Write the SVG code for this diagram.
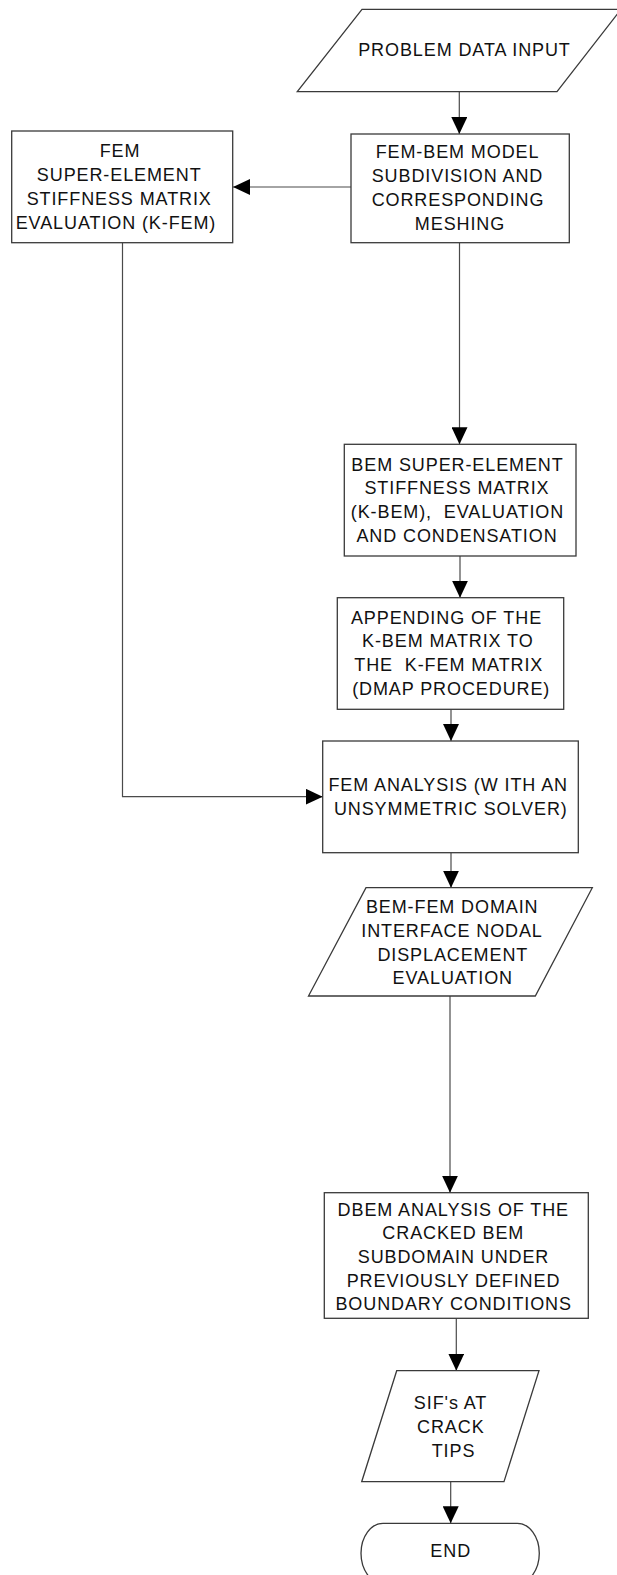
<svg xmlns="http://www.w3.org/2000/svg" width="617" height="1575" viewBox="0 0 617 1575">
<style>
.shape{fill:#fff;stroke:#3a3a3a;stroke-width:1.3}
.conn{fill:none;stroke:#4a4a4a;stroke-width:1.2}
text{font-family:"Liberation Sans",Arial,sans-serif;font-size:18px;letter-spacing:0.9px;fill:#111;text-anchor:middle;white-space:pre}
</style>
<defs>
<marker id="ah" markerUnits="userSpaceOnUse" viewBox="0 0 17 16" refX="17" refY="8" markerWidth="17" markerHeight="16" orient="auto">
<path d="M0,0 L17,8 L0,16 z" fill="#000"/>
</marker>
</defs>
<rect width="617" height="1575" fill="#fff"/>
<g id="connectors">
<line class="conn" x1="459.3" y1="91.7" x2="459.3" y2="134" marker-end="url(#ah)"/>
<line class="conn" x1="351" y1="187" x2="233" y2="187" marker-end="url(#ah)"/>
<line class="conn" x1="459.5" y1="242.7" x2="459.5" y2="444.3" marker-end="url(#ah)"/>
<line class="conn" x1="460" y1="556" x2="460" y2="597.7" marker-end="url(#ah)"/>
<line class="conn" x1="451" y1="709.3" x2="451" y2="741" marker-end="url(#ah)"/>
<polyline class="conn" points="122.5,242.7 122.5,796.7 322.7,796.7" marker-end="url(#ah)"/>
<line class="conn" x1="451" y1="852.7" x2="451" y2="887.7" marker-end="url(#ah)"/>
<line class="conn" x1="450" y1="996" x2="450" y2="1192.7" marker-end="url(#ah)"/>
<line class="conn" x1="456.3" y1="1318.3" x2="456.3" y2="1370.7" marker-end="url(#ah)"/>
<line class="conn" x1="450.7" y1="1481.7" x2="450.7" y2="1523.3" marker-end="url(#ah)"/>
</g>
<g id="input">
<polygon class="shape" points="362,9.3 621,9.3 557,91.7 297.3,91.7"/>
<text x="464.5" y="56">PROBLEM DATA INPUT</text>
</g>
<g id="fem-superelement">
<rect class="shape" x="11.7" y="131" width="221" height="111.7"/>
<text x="120" y="157.3">FEM</text>
<text x="119.2" y="181">SUPER-ELEMENT</text>
<text x="119.2" y="205">STIFFNESS MATRIX</text>
<text x="116" y="229">EVALUATION (K-FEM)</text>
</g>
<g id="model-subdivision">
<rect class="shape" x="351" y="134" width="218.3" height="108.7"/>
<text x="457.5" y="158.3">FEM-BEM MODEL</text>
<text x="457.5" y="182.3">SUBDIVISION AND</text>
<text x="458" y="206.3">CORRESPONDING</text>
<text x="460" y="230">MESHING</text>
</g>
<g id="bem-superelement">
<rect class="shape" x="344.3" y="444.3" width="231.7" height="111.7"/>
<text x="457.5" y="471">BEM SUPER-ELEMENT</text>
<text x="457" y="494.3">STIFFNESS MATRIX</text>
<text x="457.5" y="518.3">(K-BEM),  EVALUATION</text>
<text x="457" y="541.7">AND CONDENSATION</text>
</g>
<g id="appending">
<rect class="shape" x="337.3" y="597.7" width="226.4" height="111.6"/>
<text x="446.5" y="624">APPENDING OF THE</text>
<text x="447.8" y="647.3">K-BEM MATRIX TO</text>
<text x="448.8" y="670.7">THE  K-FEM MATRIX</text>
<text x="451.2" y="695">(DMAP PROCEDURE)</text>
</g>
<g id="fem-analysis">
<rect class="shape" x="322.7" y="741" width="255.6" height="111.7"/>
<text x="448.2" y="790.7">FEM ANALYSIS (W ITH AN</text>
<text x="450.8" y="815">UNSYMMETRIC SOLVER)</text>
</g>
<g id="interface-displacement">
<polygon class="shape" points="366,887.7 592.3,887.7 535.3,996 308.5,996"/>
<text x="452.2" y="913.3">BEM-FEM DOMAIN</text>
<text x="452" y="937.3">INTERFACE NODAL</text>
<text x="452.8" y="960.7">DISPLACEMENT</text>
<text x="452.8" y="984.4">EVALUATION</text>
</g>
<g id="dbem-analysis">
<rect class="shape" x="324.3" y="1192.7" width="264" height="125.6"/>
<text x="453.3" y="1216">DBEM ANALYSIS OF THE</text>
<text x="453.3" y="1239">CRACKED BEM</text>
<text x="453.5" y="1262.7">SUBDOMAIN UNDER</text>
<text x="453.5" y="1286.7">PREVIOUSLY DEFINED</text>
<text x="453.7" y="1310">BOUNDARY CONDITIONS</text>
</g>
<g id="sif-output">
<polygon class="shape" points="396.7,1370.7 539,1370.7 504,1481.7 361.7,1481.7"/>
<text x="450.5" y="1409.3">SIF's AT</text>
<text x="450.8" y="1433.3">CRACK</text>
<text x="453.5" y="1456.7">TIPS</text>
</g>
<g id="end">
<rect class="shape" x="361" y="1523.3" width="178.3" height="60" rx="22" ry="30"/>
<text x="450.7" y="1556.7">END</text>
</g>
</svg>
